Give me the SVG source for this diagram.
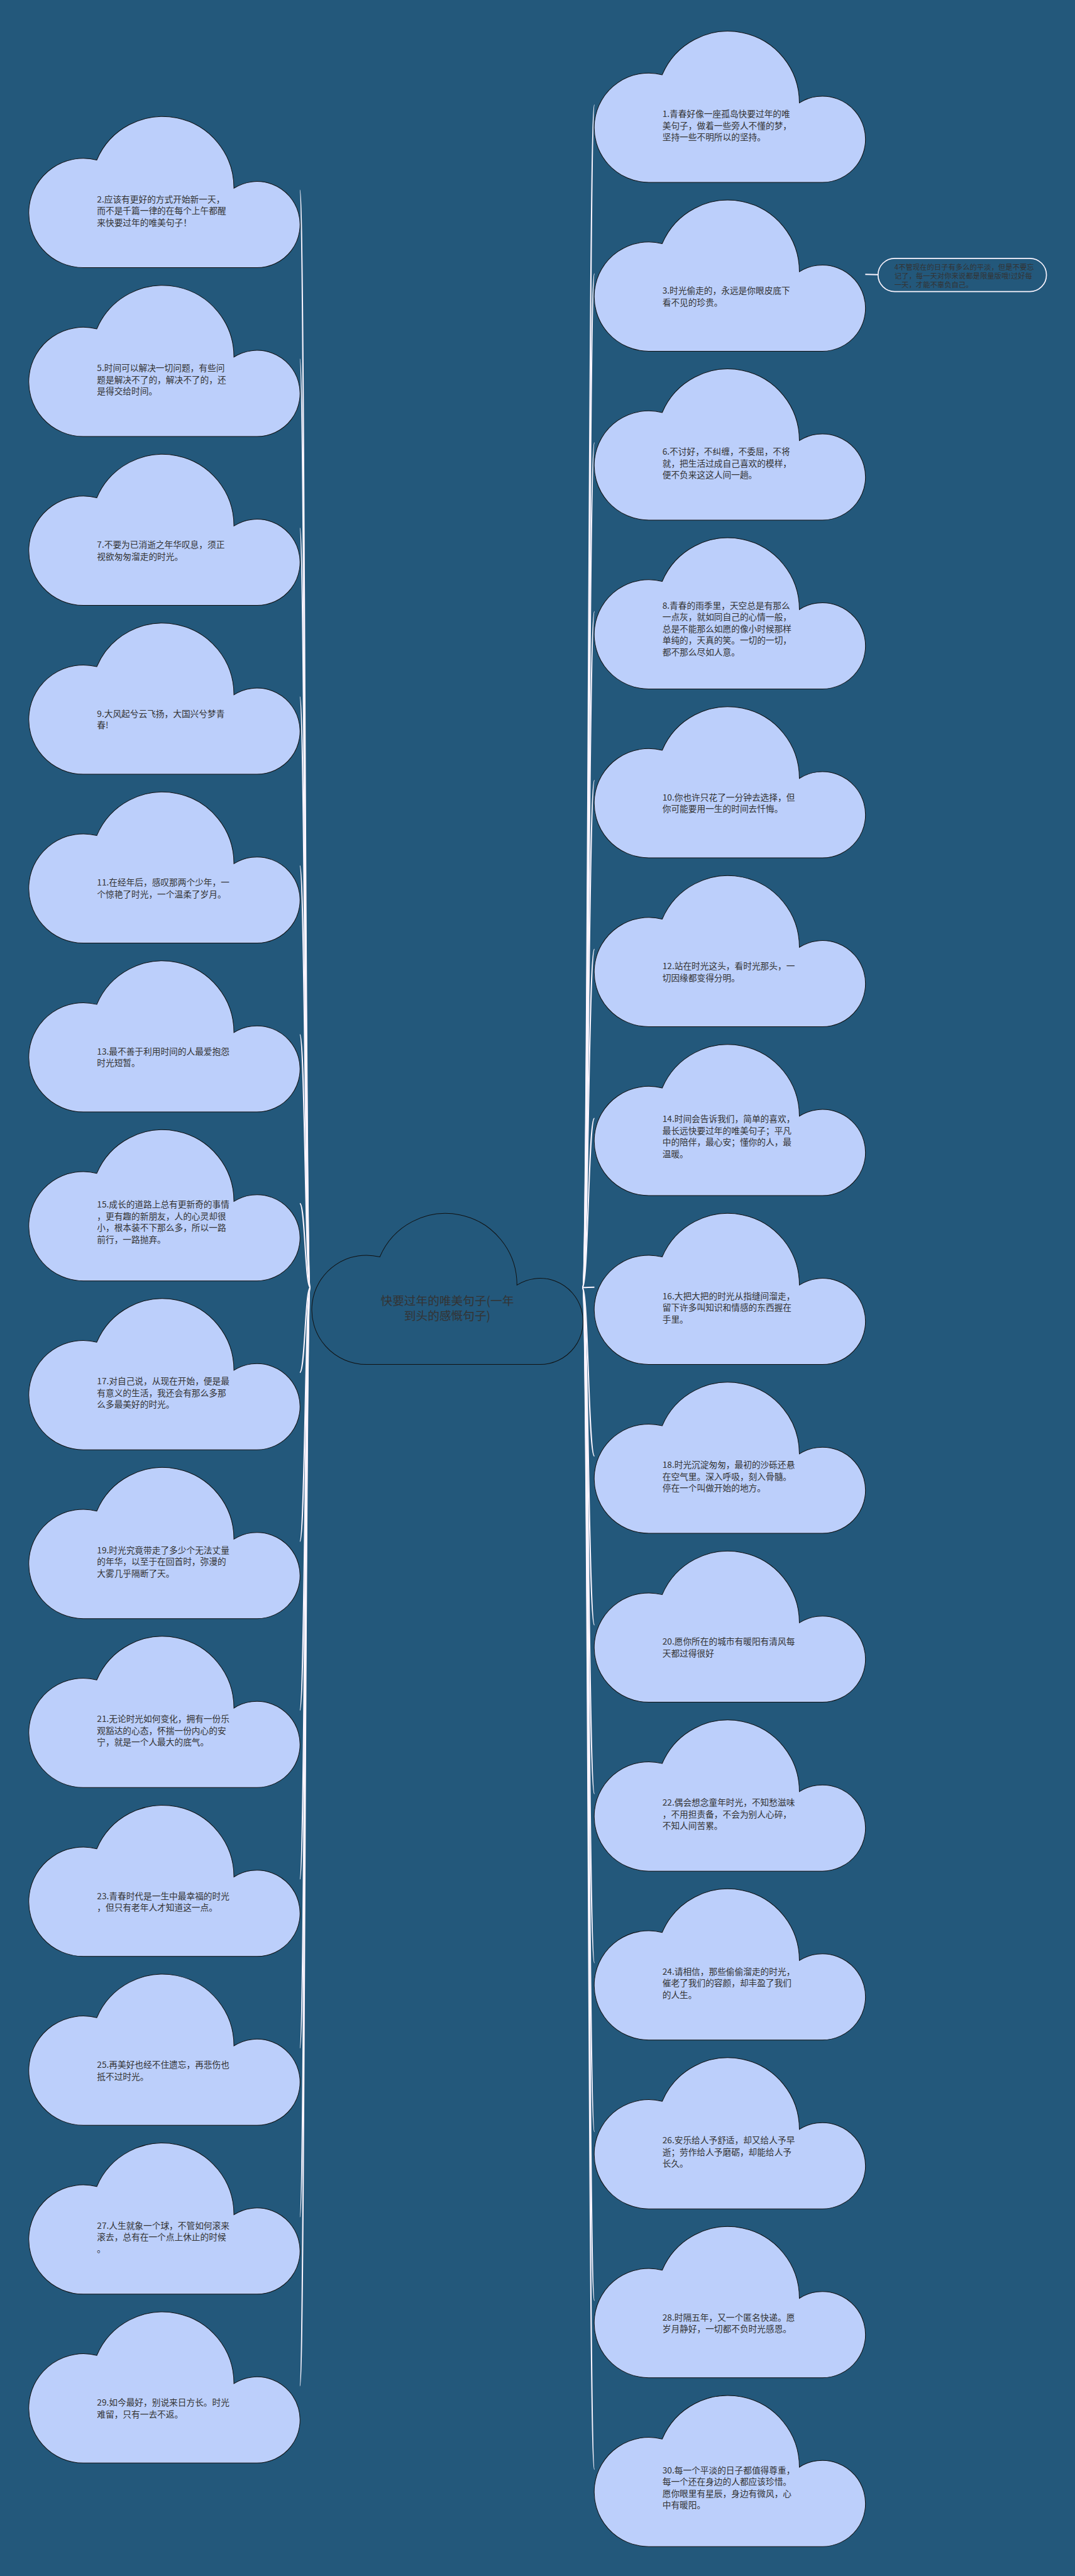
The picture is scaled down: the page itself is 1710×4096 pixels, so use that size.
<svg xmlns="http://www.w3.org/2000/svg" xmlns:xlink="http://www.w3.org/1999/xlink" width="1710" height="4096" viewBox="0 0 1710 4096">
<defs>
<path id="cloud" d="M130 364A130 130 0 1 1 161.5 108A170 170 0 0 1 488 175A102.5 102.5 0 1 1 542.5 364Z"/>
<style>
.bg{fill:#23587b}
.c{fill:#bccffb;stroke:#111;stroke-width:1.5}
.cc{fill:#23587b;stroke:#111;stroke-width:1.5}
.t{font-family:"Noto Sans CJK SC","Noto Sans",sans-serif;font-size:20.5px;fill:#333}
.ct{font-family:"Noto Sans CJK SC","Noto Sans",sans-serif;font-size:28px;fill:#333;text-anchor:middle}
.nt{font-family:"Noto Sans CJK SC","Noto Sans",sans-serif;font-size:17px;fill:#333}
.ln{fill:none;stroke:#fbf5ff;stroke-width:3}
.pill{fill:none;stroke:#fbf5ff;stroke-width:2.5}
</style>
</defs>
<rect class="bg" x="0" y="0" width="1710" height="4096"/>
<g transform="scale(0.66797)">
<g id="connectors">
<path class="ln" d="M739 3065C726.5 3065 726.5 453 714 453"/>
<path class="ln" d="M739 3065C726.5 3065 726.5 855 714 855"/>
<path class="ln" d="M739 3065C726.5 3065 726.5 1257 714 1257"/>
<path class="ln" d="M739 3065C726.5 3065 726.5 1659 714 1659"/>
<path class="ln" d="M739 3065C726.5 3065 726.5 2061 714 2061"/>
<path class="ln" d="M739 3065C726.5 3065 726.5 2463 714 2463"/>
<path class="ln" d="M739 3065C726.5 3065 726.5 2865 714 2865"/>
<path class="ln" d="M739 3065C726.5 3065 726.5 3267 714 3267"/>
<path class="ln" d="M739 3065C726.5 3065 726.5 3669 714 3669"/>
<path class="ln" d="M739 3065C726.5 3065 726.5 4071 714 4071"/>
<path class="ln" d="M739 3065C726.5 3065 726.5 4473 714 4473"/>
<path class="ln" d="M739 3065C726.5 3065 726.5 4875 714 4875"/>
<path class="ln" d="M739 3065C726.5 3065 726.5 5277 714 5277"/>
<path class="ln" d="M739 3065C726.5 3065 726.5 5679 714 5679"/>
<path class="ln" d="M1387 3065C1401 3065 1401 250 1415.5 250"/>
<path class="ln" d="M1387 3065C1401 3065 1401 652 1415.5 652"/>
<path class="ln" d="M1387 3065C1401 3065 1401 1054 1415.5 1054"/>
<path class="ln" d="M1387 3065C1401 3065 1401 1456 1415.5 1456"/>
<path class="ln" d="M1387 3065C1401 3065 1401 1858 1415.5 1858"/>
<path class="ln" d="M1387 3065C1401 3065 1401 2260 1415.5 2260"/>
<path class="ln" d="M1387 3065C1401 3065 1401 2662 1415.5 2662"/>
<path class="ln" d="M1387 3065C1401 3065 1401 3064 1415.5 3064"/>
<path class="ln" d="M1387 3065C1401 3065 1401 3466 1415.5 3466"/>
<path class="ln" d="M1387 3065C1401 3065 1401 3868 1415.5 3868"/>
<path class="ln" d="M1387 3065C1401 3065 1401 4270 1415.5 4270"/>
<path class="ln" d="M1387 3065C1401 3065 1401 4672 1415.5 4672"/>
<path class="ln" d="M1387 3065C1401 3065 1401 5074 1415.5 5074"/>
<path class="ln" d="M1387 3065C1401 3065 1401 5476 1415.5 5476"/>
<path class="ln" d="M1387 3065C1401 3065 1401 5878 1415.5 5878"/>
<path class="ln" d="M2060.5 653L2091 654"/>
</g>

<g id="center" transform="translate(743,2884)">
<use xlink:href="#cloud" class="cc"/>
<text class="ct" x="322" y="223">快要过年的唯美句子(一年<tspan x="322" dy="36">到头的感慨句子)</tspan></text>
</g>

<g id="n2" transform="translate(69,273)"><use xlink:href="#cloud" class="c"/>
<text class="t" x="162" y="208.5">2.应该有更好的方式开始新一天，<tspan x="162" dy="27.7">而不是千篇一律的在每个上午都醒</tspan><tspan x="162" dy="27.7">来快要过年的唯美句子！</tspan></text></g>
<g id="n5" transform="translate(69,675)"><use xlink:href="#cloud" class="c"/>
<text class="t" x="162" y="208.5">5.时间可以解决一切问题，有些问<tspan x="162" dy="27.7">题是解决不了的，解决不了的，还</tspan><tspan x="162" dy="27.7">是得交给时间。</tspan></text></g>
<g id="n7" transform="translate(69,1077)"><use xlink:href="#cloud" class="c"/>
<text class="t" x="162" y="227.5">7.不要为已消逝之年华叹息，须正<tspan x="162" dy="27.7">视欲匆匆溜走的时光。</tspan></text></g>
<g id="n9" transform="translate(69,1479)"><use xlink:href="#cloud" class="c"/>
<text class="t" x="162" y="227.5">9.大风起兮云飞扬，大国兴兮梦青<tspan x="162" dy="27.7">春!</tspan></text></g>
<g id="n11" transform="translate(69,1881)"><use xlink:href="#cloud" class="c"/>
<text class="t" x="162" y="227.5">11.在经年后，感叹那两个少年，一<tspan x="162" dy="27.7">个惊艳了时光，一个温柔了岁月。</tspan></text></g>
<g id="n13" transform="translate(69,2283)"><use xlink:href="#cloud" class="c"/>
<text class="t" x="162" y="227.5">13.最不善于利用时间的人最爱抱怨<tspan x="162" dy="27.7">时光短暂。</tspan></text></g>
<g id="n15" transform="translate(69,2685)"><use xlink:href="#cloud" class="c"/>
<text class="t" x="162" y="189.5">15.成长的道路上总有更新奇的事情<tspan x="162" dy="27.7">，更有趣的新朋友，人的心灵却很</tspan><tspan x="162" dy="27.7">小，根本装不下那么多，所以一路</tspan><tspan x="162" dy="27.7">前行，一路抛弃。</tspan></text></g>
<g id="n17" transform="translate(69,3087)"><use xlink:href="#cloud" class="c"/>
<text class="t" x="162" y="208.5">17.对自己说，从现在开始，便是最<tspan x="162" dy="27.7">有意义的生活，我还会有那么多那</tspan><tspan x="162" dy="27.7">么多最美好的时光。</tspan></text></g>
<g id="n19" transform="translate(69,3489)"><use xlink:href="#cloud" class="c"/>
<text class="t" x="162" y="208.5">19.时光究竟带走了多少个无法丈量<tspan x="162" dy="27.7">的年华，以至于在回首时，弥漫的</tspan><tspan x="162" dy="27.7">大雾几乎隔断了天。</tspan></text></g>
<g id="n21" transform="translate(69,3891)"><use xlink:href="#cloud" class="c"/>
<text class="t" x="162" y="208.5">21.无论时光如何变化，拥有一份乐<tspan x="162" dy="27.7">观豁达的心态，怀揣一份内心的安</tspan><tspan x="162" dy="27.7">宁，就是一个人最大的底气。</tspan></text></g>
<g id="n23" transform="translate(69,4293)"><use xlink:href="#cloud" class="c"/>
<text class="t" x="162" y="227.5">23.青春时代是一生中最幸福的时光<tspan x="162" dy="27.7">，但只有老年人才知道这一点。</tspan></text></g>
<g id="n25" transform="translate(69,4695)"><use xlink:href="#cloud" class="c"/>
<text class="t" x="162" y="227.5">25.再美好也经不住遗忘，再悲伤也<tspan x="162" dy="27.7">抵不过时光。</tspan></text></g>
<g id="n27" transform="translate(69,5097)"><use xlink:href="#cloud" class="c"/>
<text class="t" x="162" y="208.5">27.人生就象一个球，不管如何滚来<tspan x="162" dy="27.7">滚去，总有在一个点上休止的时候</tspan><tspan x="162" dy="27.7">。</tspan></text></g>
<g id="n29" transform="translate(69,5499)"><use xlink:href="#cloud" class="c"/>
<text class="t" x="162" y="227.5">29.如今最好，别说来日方长。时光<tspan x="162" dy="27.7">难留，只有一去不返。</tspan></text></g>

<g id="n1" transform="translate(1415.5,70)"><use xlink:href="#cloud" class="c"/>
<text class="t" x="162" y="208.5">1.青春好像一座孤岛快要过年的唯<tspan x="162" dy="27.7">美句子，做着一些旁人不懂的梦，</tspan><tspan x="162" dy="27.7">坚持一些不明所以的坚持。</tspan></text></g>
<g id="n3" transform="translate(1415.5,472)"><use xlink:href="#cloud" class="c"/>
<text class="t" x="162" y="227.5">3.时光偷走的，永远是你眼皮底下<tspan x="162" dy="27.7">看不见的珍贵。</tspan></text></g>
<g id="n6" transform="translate(1415.5,874)"><use xlink:href="#cloud" class="c"/>
<text class="t" x="162" y="208.5">6.不讨好，不纠缠，不委屈，不将<tspan x="162" dy="27.7">就，把生活过成自己喜欢的模样，</tspan><tspan x="162" dy="27.7">便不负来这这人间一趟。</tspan></text></g>
<g id="n8" transform="translate(1415.5,1276)"><use xlink:href="#cloud" class="c"/>
<text class="t" x="162" y="172.5">8.青春的雨季里，天空总是有那么<tspan x="162" dy="27.7">一点灰，就如同自己的心情一般，</tspan><tspan x="162" dy="27.7">总是不能那么如愿的像小时候那样</tspan><tspan x="162" dy="27.7">单纯的，天真的笑。一切的一切，</tspan><tspan x="162" dy="27.7">都不那么尽如人意。</tspan></text></g>
<g id="n10" transform="translate(1415.5,1678)"><use xlink:href="#cloud" class="c"/>
<text class="t" x="162" y="227.5">10.你也许只花了一分钟去选择，但<tspan x="162" dy="27.7">你可能要用一生的时间去忏悔。</tspan></text></g>
<g id="n12" transform="translate(1415.5,2080)"><use xlink:href="#cloud" class="c"/>
<text class="t" x="162" y="227.5">12.站在时光这头，看时光那头，一<tspan x="162" dy="27.7">切因缘都变得分明。</tspan></text></g>
<g id="n14" transform="translate(1415.5,2482)"><use xlink:href="#cloud" class="c"/>
<text class="t" x="162" y="189.5">14.时间会告诉我们，简单的喜欢，<tspan x="162" dy="27.7">最长远快要过年的唯美句子；平凡</tspan><tspan x="162" dy="27.7">中的陪伴，最心安；懂你的人，最</tspan><tspan x="162" dy="27.7">温暖。</tspan></text></g>
<g id="n16" transform="translate(1415.5,2884)"><use xlink:href="#cloud" class="c"/>
<text class="t" x="162" y="208.5">16.大把大把的时光从指缝间溜走，<tspan x="162" dy="27.7">留下许多叫知识和情感的东西握在</tspan><tspan x="162" dy="27.7">手里。</tspan></text></g>
<g id="n18" transform="translate(1415.5,3286)"><use xlink:href="#cloud" class="c"/>
<text class="t" x="162" y="208.5">18.时光沉淀匆匆，最初的沙砾还悬<tspan x="162" dy="27.7">在空气里。深入呼吸，刻入骨髓。</tspan><tspan x="162" dy="27.7">停在一个叫做开始的地方。</tspan></text></g>
<g id="n20" transform="translate(1415.5,3688)"><use xlink:href="#cloud" class="c"/>
<text class="t" x="162" y="227.5">20.愿你所在的城市有暖阳有清风每<tspan x="162" dy="27.7">天都过得很好</tspan></text></g>
<g id="n22" transform="translate(1415.5,4090)"><use xlink:href="#cloud" class="c"/>
<text class="t" x="162" y="208.5">22.偶会想念童年时光，不知愁滋味<tspan x="162" dy="27.7">，不用担责备，不会为别人心碎，</tspan><tspan x="162" dy="27.7">不知人间苦累。</tspan></text></g>
<g id="n24" transform="translate(1415.5,4492)"><use xlink:href="#cloud" class="c"/>
<text class="t" x="162" y="208.5">24.请相信，那些偷偷溜走的时光，<tspan x="162" dy="27.7">催老了我们的容颜，却丰盈了我们</tspan><tspan x="162" dy="27.7">的人生。</tspan></text></g>
<g id="n26" transform="translate(1415.5,4894)"><use xlink:href="#cloud" class="c"/>
<text class="t" x="162" y="208.5">26.安乐给人予舒适，却又给人予早<tspan x="162" dy="27.7">逝；劳作给人予磨砺，却能给人予</tspan><tspan x="162" dy="27.7">长久。</tspan></text></g>
<g id="n28" transform="translate(1415.5,5296)"><use xlink:href="#cloud" class="c"/>
<text class="t" x="162" y="227.5">28.时隔五年，又一个匿名快递。愿<tspan x="162" dy="27.7">岁月静好，一切都不负时光感恩。</tspan></text></g>
<g id="n30" transform="translate(1415.5,5698)"><use xlink:href="#cloud" class="c"/>
<text class="t" x="162" y="189.5">30.每一个平淡的日子都值得尊重，<tspan x="162" dy="27.7">每一个还在身边的人都应该珍惜。</tspan><tspan x="162" dy="27.7">愿你眼里有星辰，身边有微风，心</tspan><tspan x="162" dy="27.7">中有暖阳。</tspan></text></g>

<g id="n4">
<rect class="pill" x="2091" y="615" width="401" height="79" rx="39.5"/>
<text class="nt" x="2130" y="641.5">4不管现在的日子有多么的平淡，但是不要忘<tspan x="2130" dy="21.7">记了，每一天对你来说都是限量版哦!过好每</tspan><tspan x="2130" dy="21.7">一天，才能不辜负自己。</tspan></text>
</g>
</g>
</svg>
